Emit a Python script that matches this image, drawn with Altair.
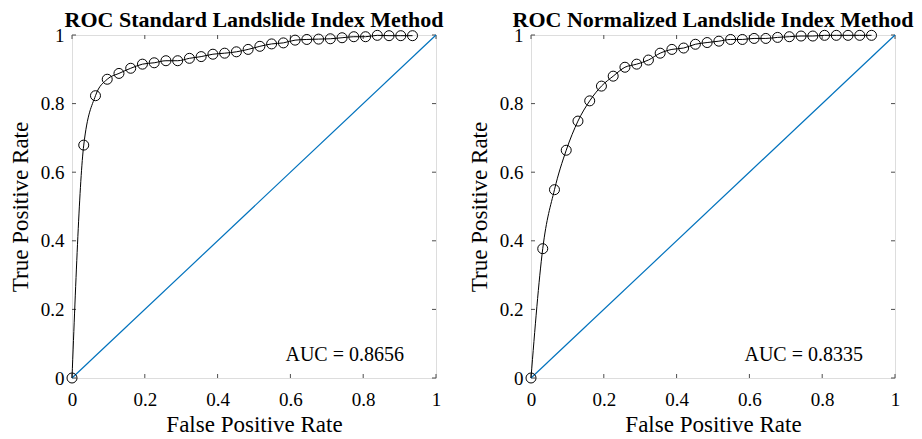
import altair as alt
import pandas as pd

# False positive rate positions (k/31)
fpr = [k / 31 for k in range(30)]

tpr_standard = [0.0, 0.679, 0.823, 0.871, 0.888, 0.903, 0.915, 0.919, 0.925, 0.925,
                0.932, 0.937, 0.944, 0.947, 0.951, 0.958, 0.967, 0.974, 0.977, 0.985,
                0.987, 0.988, 0.989, 0.992, 0.995, 0.995, 0.999, 0.998, 0.998, 0.998]

tpr_normalized = [0.0, 0.377, 0.549, 0.664, 0.749, 0.808, 0.851, 0.880, 0.906, 0.915,
                  0.927, 0.947, 0.958, 0.962, 0.973, 0.978, 0.982, 0.987, 0.987, 0.990,
                  0.990, 0.993, 0.995, 0.997, 0.997, 0.999, 0.999, 0.999, 0.999, 0.999]

titles = ["ROC Standard Landslide Index Method", "ROC Normalized Landslide Index Method"]
auc_labels = ["AUC = 0.8656", "AUC = 0.8335"]
diag_x = [0, 1]
tick_values = [0, 0.2, 0.4, 0.6, 0.8, 1]

W, H = 364, 343
FONT = "Liberation Serif"
AX = "#4d4d4d"


def panel(tpr, title, auc):
    df = pd.DataFrame({"fpr": fpr, "tpr": tpr})
    diag = pd.DataFrame({"x": diag_x, "y": diag_x})
    ticks = pd.DataFrame({"t": tick_values})

    xs = alt.Scale(domain=[0, 1], nice=False)
    ys = alt.Scale(domain=[0, 1], nice=False)
    xaxis = alt.Axis(values=tick_values, format="~g", ticks=False, domain=False, grid=False,
                     labelFlush=False,
                     labelFont=FONT, labelFontSize=19, labelColor="black", labelPadding=12,
                     title="False Positive Rate", titleFont=FONT, titleFontSize=23,
                     titleFontWeight="normal", titleColor="black", titlePadding=4)
    yaxis = alt.Axis(values=tick_values, format="~g", ticks=False, domain=False, grid=False,
                     labelFlush=False,
                     labelFont=FONT, labelFontSize=19, labelColor="black", labelPadding=8,
                     title="True Positive Rate", titleFont=FONT, titleFontSize=23,
                     titleFontWeight="normal", titleColor="black", titlePadding=8)

    diag_line = alt.Chart(diag).mark_line(color="#0072BD", strokeWidth=1.2).encode(
        x=alt.X("x:Q", scale=xs, axis=xaxis),
        y=alt.Y("y:Q", scale=ys, axis=yaxis),
    )
    curve = alt.Chart(df).mark_line(color="black", strokeWidth=1, interpolate="monotone").encode(
        x=alt.X("fpr:Q", scale=xs), y=alt.Y("tpr:Q", scale=ys)
    )
    pts = alt.Chart(df).mark_point(shape="circle", filled=False, color="black", size=100,
                                   strokeWidth=1, opacity=1).encode(
        x=alt.X("fpr:Q", scale=xs), y=alt.Y("tpr:Q", scale=ys)
    )
    tb = alt.Chart(ticks).mark_rule(color=AX, strokeWidth=1).encode(
        x=alt.X("t:Q", scale=xs), y=alt.value(H), y2=alt.value(H - 4))
    tt = alt.Chart(ticks).mark_rule(color=AX, strokeWidth=1).encode(
        x=alt.X("t:Q", scale=xs), y=alt.value(0), y2=alt.value(4))
    tl = alt.Chart(ticks).mark_rule(color=AX, strokeWidth=1).encode(
        y=alt.Y("t:Q", scale=ys), x=alt.value(0), x2=alt.value(4))
    tr = alt.Chart(ticks).mark_rule(color=AX, strokeWidth=1).encode(
        y=alt.Y("t:Q", scale=ys), x=alt.value(W), x2=alt.value(W - 4))
    txt = alt.Chart(pd.DataFrame({"label": [auc]})).mark_text(
        font=FONT, fontSize=20, color="black", align="right", baseline="middle"
    ).encode(text="label:N", x=alt.value(332), y=alt.value(320))

    return alt.layer(tb, tt, tl, tr, diag_line, curve, pts, txt).properties(
        width=W, height=H,
        title=alt.TitleParams(title, font=FONT, fontSize=22, fontWeight="bold",
                              color="black", anchor="middle", offset=-6, frame="group"),
    )


chart = alt.hconcat(
    panel(tpr_standard, titles[0], auc_labels[0]),
    panel(tpr_normalized, titles[1], auc_labels[1]),
    spacing=23,
).configure_view(stroke=AX, strokeWidth=1.2).configure(background="white").properties(padding=0)

chart.save("out.html", embed_options={"renderer": "svg", "actions": False})
